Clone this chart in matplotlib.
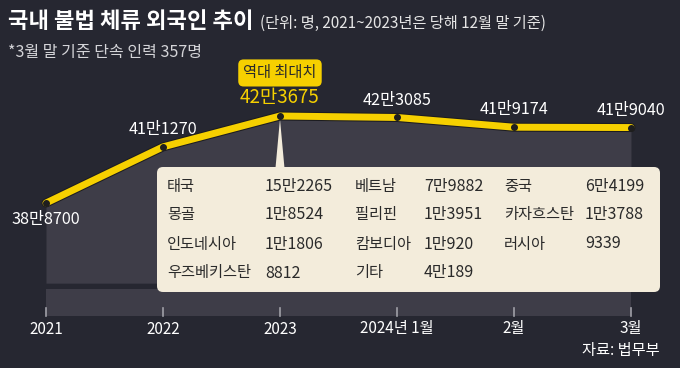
import matplotlib
matplotlib.use("Agg")
import matplotlib.pyplot as plt
import matplotlib.patheffects as pe
import matplotlib.transforms as mtransforms
from matplotlib.patches import FancyBboxPatch, Polygon, Rectangle

plt.rcParams["font.family"] = ["Noto Sans CJK KR", "DejaVu Sans"]

# 데이터
PERIODS = ["2021", "2022", "2023", "2024년 1월", "2월", "3월"]
TOTALS = [388700, 411270, 423675, 423085, 419174, 419040]
PEAK_NOTE = "역대 최대치"

COUNTRIES = [
    "태국", "베트남", "중국",
    "몽골", "필리핀", "카자흐스탄",
    "인도네시아", "캄보디아", "러시아",
    "우즈베키스탄", "기타",
]
COUNTRY_COUNTS = [
    152265, 79882, 64199,
    18524, 13951, 13788,
    11806, 10920, 9339,
    8812, 40189,
]

TITLE = "국내 불법 체류 외국인 추이"
SUBTITLE = "(단위: 명, 2021~2023년은 당해 12월 말 기준)"
NOTE = "*3월 말 기준 단속 인력 357명"
SOURCE = "자료: 법무부"

BG = "#262731"
AREA = "#3e3d48"
YELLOW = "#f6d000"
CREAM = "#f3ecdb"
DARK_TEXT = "#2a2a2a"


def man(value):
    if value < 10000:
        return str(value)
    return f"{value // 10000}만{value % 10000}"


W, H = 680, 368
fig = plt.figure(figsize=(W / 100, H / 100), dpi=100, facecolor=BG)

# 데이터 축: 그림 전체를 덮고, 한계값으로 위치를 맞춤
ax = fig.add_axes([0, 0, 1, 1])
ax.set_facecolor("none")
ax.axis("off")
ax.set_xlim(-0.393, 5.419)
ax.set_ylim(322400, 470300)
AREA_BASE = 356500

# 장식용 축 (픽셀 좌표)
ov = fig.add_axes([0, 0, 1, 1], zorder=0)
ov.set_facecolor("none")
ov.axis("off")
ov.set_xlim(0, W)
ov.set_ylim(H, 0)
ax.set_zorder(1)

xs = list(range(len(PERIODS)))
blend = mtransforms.blended_transform_factory(ax.transData, ov.transData)

# 면적
ax.fill_between(xs, TOTALS, AREA_BASE, color=AREA, lw=0, zorder=1)

# 아래 띠와 눈금
ax.add_patch(Rectangle((xs[0], 289), xs[-1] - xs[0], 27, transform=blend,
                       facecolor=AREA, edgecolor="none", zorder=1))
for i, label in zip(xs, PERIODS):
    ax.plot([i, i], [308, 316], color="#a0a0a8", lw=1.2, transform=blend, zorder=2)
    ax.text(i, 329, label, transform=blend, ha="center", va="center",
            color="white", fontsize=11)

# 선
ax.plot(xs, TOTALS, color=YELLOW, lw=5, solid_capstyle="round",
        solid_joinstyle="round", zorder=4,
        path_effects=[pe.Stroke(linewidth=6.5, foreground="#1c1c20"), pe.Normal()])
ax.plot(xs, TOTALS, "o", color="#1e1e1e", ms=4, zorder=5)

# 값 라벨
peak = TOTALS.index(max(TOTALS))
for i, v in zip(xs, TOTALS):
    if i == peak:
        continue
    dy = -12 if i == 0 else 12.5
    ax.annotate(man(v), (i, v), xytext=(0, dy), textcoords="offset points",
                ha="center", va="center", color="white", fontsize=11.7, zorder=6)

ax.annotate(man(TOTALS[peak]), (peak, TOTALS[peak]), xytext=(0, 13),
            textcoords="offset points", ha="center", va="center",
            color=YELLOW, fontsize=13.5, zorder=6)
ax.annotate(PEAK_NOTE, (peak, TOTALS[peak]), xytext=(0, 31),
            textcoords="offset points", ha="center", va="center",
            color=DARK_TEXT, fontsize=11, zorder=6,
            bbox=dict(boxstyle="round,pad=0.33,rounding_size=0.35",
                      fc=YELLOW, ec="none"))

# 국가별 상자
box_x0, box_y0, box_x1, box_y1 = 157, 167, 660, 292
r = 6
ax.add_patch(FancyBboxPatch((box_x0 + r, box_y0 + r), box_x1 - box_x0 - 2 * r,
                            box_y1 - box_y0 - 2 * r,
                            boxstyle=f"round,pad={r}", transform=ov.transData,
                            facecolor=CREAM, edgecolor="none", zorder=3))

# 최대치 점에서 상자로 이어지는 꼬리
fig.canvas.draw()
px, py = ov.transData.inverted().transform(
    ax.transData.transform((peak, TOTALS[peak])))
ax.add_patch(Polygon([(px, py + 3), (px - 4.5, box_y0 + 1), (px + 4.5, box_y0 + 1)],
                     closed=True, transform=ov.transData,
                     facecolor=CREAM, edgecolor="none", zorder=3))

name_x = [167, 355, 504]
value_x = [265, 424, 585]
row_y = [186, 215, 244, 273]
for k, (name, count) in enumerate(zip(COUNTRIES, COUNTRY_COUNTS)):
    row, col = divmod(k, 3)
    ax.text(name_x[col], row_y[row], name, transform=ov.transData,
            ha="left", va="center", color=DARK_TEXT, fontsize=11, zorder=6)
    ax.text(value_x[col], row_y[row], man(count), transform=ov.transData,
            ha="left", va="center", color=DARK_TEXT, fontsize=11.5, zorder=6)

# 제목
ov.text(8, 22, TITLE, ha="left", va="center", color="white",
        fontsize=16, fontweight="bold")
ov.text(260, 23, SUBTITLE, ha="left", va="center", color="#e6e6e6", fontsize=11)
ov.text(8, 53, NOTE, ha="left", va="center", color="#d4d4d8", fontsize=11.5)
ov.text(660, 351, SOURCE, ha="right", va="center", color="white", fontsize=11)

fig.savefig("out.png", dpi=100, facecolor=BG)
